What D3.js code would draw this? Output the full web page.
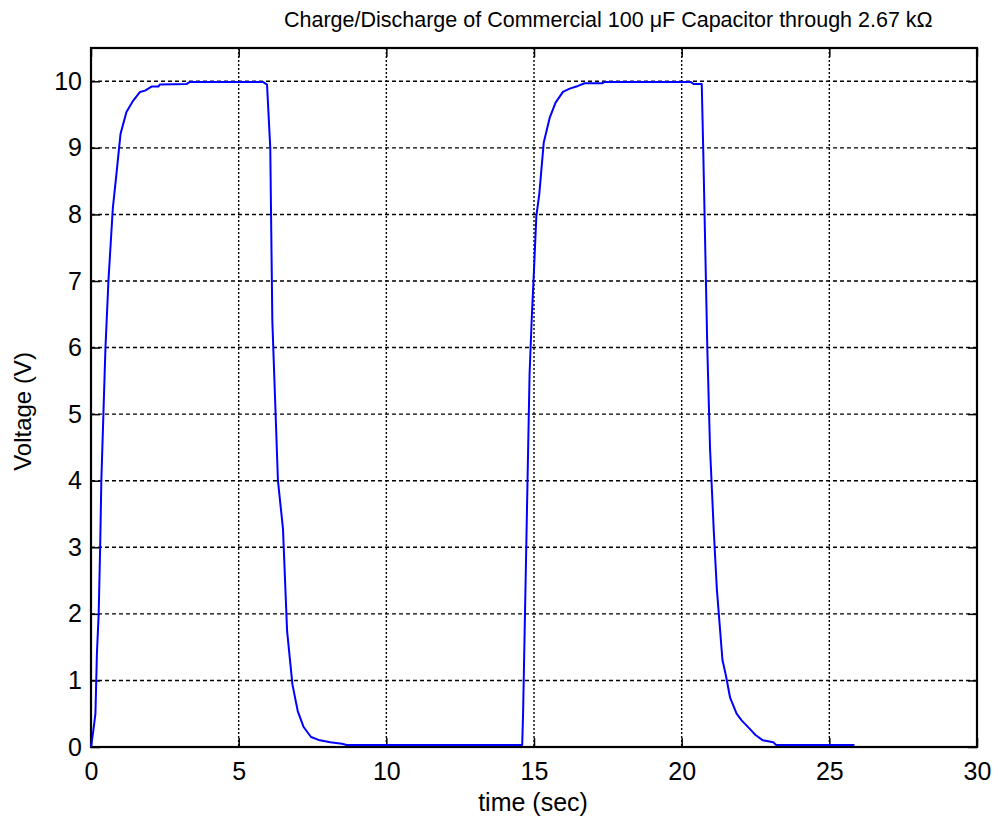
<!DOCTYPE html>
<html>
<head>
<meta charset="utf-8">
<script src="https://cdn.jsdelivr.net/npm/d3@7"></script>
<style>
  html, body { margin: 0; padding: 0; background: #fff; }
  text { font-family: "Liberation Sans", Arial, sans-serif; fill: #000; }
</style>
</head>
<body>
<svg id="chart" width="998" height="824"></svg>
<script>
// ---- data ----
const titleText = "Charge/Discharge of Commercial 100 \u03BCF Capacitor through 2.67 k\u03A9";
const xLabel = "time (sec)";
const yLabel = "Voltage (V)";
const xTicks = [0, 5, 10, 15, 20, 25, 30];
const yTicks = [0, 1, 2, 3, 4, 5, 6, 7, 8, 9, 10];

const timeSec = [
  0, 0.08, 0.15, 0.2, 0.26, 0.31, 0.35, 0.42, 0.49, 0.59, 0.74,
  0.85, 1.0, 1.2, 1.43, 1.66, 1.83, 2.05, 2.28, 2.33, 3.24, 3.35,
  5.82, 5.96, 6.07, 6.14, 6.33, 6.5, 6.64, 6.82, 7.0, 7.2, 7.45, 7.75, 8.1, 8.5, 8.65,
  14.6, 14.63, 14.85, 14.92, 15.0, 15.08, 15.18, 15.33, 15.53, 15.73, 15.98, 16.21, 16.49, 16.71, 17.3, 17.4,
  20.3, 20.4, 20.68, 20.73, 20.87, 20.96, 21.09, 21.19, 21.38, 21.5, 21.64, 21.86, 22.03, 22.29, 22.5, 22.75, 23.1, 23.2,
  25.85
];
const voltage = [
  0, 0.25, 0.5, 1.4, 2.0, 3.0, 4.0, 5.0, 6.0, 7.0, 8.1,
  8.56, 9.21, 9.54, 9.71, 9.84, 9.86, 9.92, 9.92, 9.95, 9.96, 9.99,
  9.99, 9.95, 9.0, 6.4, 4.0, 3.28, 1.74, 0.94, 0.54, 0.3, 0.15, 0.1, 0.07, 0.05, 0.03,
  0.03, 0.5, 5.6, 6.4, 7.17, 7.98, 8.31, 9.08, 9.45, 9.68, 9.84, 9.89, 9.93, 9.97, 9.97, 9.99,
  9.99, 9.96, 9.96, 8.98, 5.96, 4.49, 3.22, 2.38, 1.31, 1.07, 0.74, 0.5, 0.4, 0.28, 0.18, 0.1, 0.07, 0.03,
  0.03
];

// ---- layout ----
const svg = d3.select("#chart");
const L = 91, R = 977, T = 48, B = 747;
const x = d3.scaleLinear().domain([0, 30]).range([L, R]);
const y = d3.scaleLinear().domain([0, 10.5]).range([B, T]);

// grid
const g = svg.append("g");
g.selectAll(".vg").data(xTicks.slice(1, -1)).enter().append("line")
  .attr("x1", d => x(d)).attr("x2", d => x(d)).attr("y1", T).attr("y2", B)
  .attr("stroke", "#000").attr("stroke-width", 1.4).attr("stroke-dasharray", "2,2");
g.selectAll(".hg").data(yTicks.slice(1)).enter().append("line")
  .attr("x1", L).attr("x2", R).attr("y1", d => y(d)).attr("y2", d => y(d))
  .attr("stroke", "#000").attr("stroke-width", 1.4).attr("stroke-dasharray", "4,3");

// axes (ticks inward, on all four sides)
const tickLen = 9;
const axB = d3.axisBottom(x).tickValues(xTicks).tickSize(-tickLen).tickPadding(15).tickFormat(d3.format("d"));
const axT = d3.axisTop(x).tickValues(xTicks).tickSize(-tickLen).tickFormat("");
const axLft = d3.axisLeft(y).tickValues(yTicks).tickSize(-tickLen).tickPadding(9).tickFormat(d3.format("d"));
const axRgt = d3.axisRight(y).tickValues(yTicks).tickSize(-tickLen).tickFormat("");

function styleAxis(sel) {
  sel.select(".domain").remove();
  sel.selectAll(".tick line").attr("stroke", "#000").attr("stroke-width", 1.5);
  sel.selectAll(".tick text").style("font-size", "25px").style("font-family", "Liberation Sans, Arial, sans-serif").attr("fill", "#000");
}
svg.append("g").attr("transform", `translate(0,${B})`).call(axB).call(styleAxis);
svg.append("g").attr("transform", `translate(0,${T})`).call(axT).call(styleAxis);
svg.append("g").attr("transform", `translate(${L},0)`).call(axLft).call(styleAxis);
svg.append("g").attr("transform", `translate(${R},0)`).call(axRgt).call(styleAxis);

// frame
svg.append("rect").attr("x", L).attr("y", T).attr("width", R - L).attr("height", B - T)
  .attr("fill", "none").attr("stroke", "#000").attr("stroke-width", 2.2);

// data line
const pts = timeSec.map((t, i) => [t, voltage[i]]);
svg.append("path").datum(pts)
  .attr("fill", "none").attr("stroke", "#0000ff").attr("stroke-width", 2)
  .attr("stroke-linejoin", "round")
  .attr("d", d3.line().x(d => x(d[0])).y(d => y(d[1])));

// labels
svg.append("text").attr("x", 284).attr("y", 27).attr("text-anchor", "start")
  .style("font-size", "21.5px").text(titleText);
svg.append("text").attr("x", (L + R) / 2 - 1).attr("y", 811).attr("text-anchor", "middle")
  .style("font-size", "25px").text(xLabel);
svg.append("text").attr("transform", `translate(31,${(T + B) / 2 + 14}) rotate(-90)`).attr("text-anchor", "middle")
  .style("font-size", "24px").text(yLabel);
</script>
</body>
</html>
